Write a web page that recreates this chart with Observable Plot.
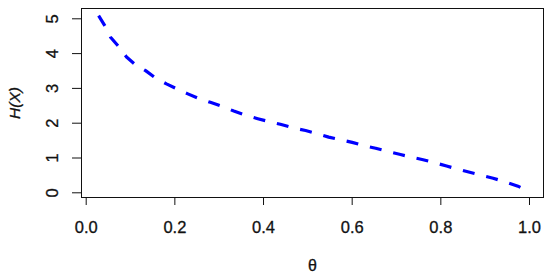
<!DOCTYPE html>
<html>
<head>
<meta charset="utf-8">
<script src="https://cdn.jsdelivr.net/npm/d3@7"></script>
<script src="https://cdn.jsdelivr.net/npm/@observablehq/plot@0.6"></script>
<style>
  html, body { margin: 0; padding: 0; background: white; }
</style>
</head>
<body>
<div id="chart"></div>
<script>
// Values
const thetaValues = [0.028, 0.044, 0.055, 0.076, 0.091, 0.111, 0.134, 0.156, 0.181, 0.207,
  0.228, 0.254, 0.280, 0.307, 0.333, 0.359, 0.387, 0.414, 0.438, 0.468,
  0.495, 0.521, 0.547, 0.575, 0.600, 0.628, 0.653, 0.680, 0.709, 0.735,
  0.760, 0.788, 0.813, 0.841, 0.865, 0.893, 0.918, 0.948, 0.974, 0.993];
const hValues = [5.09, 4.76, 4.47, 4.16, 3.90, 3.68, 3.51, 3.30, 3.13, 2.97,
  2.85, 2.71, 2.60, 2.48, 2.35, 2.23, 2.13, 2.04, 1.97, 1.86,
  1.79, 1.70, 1.60, 1.52, 1.45, 1.35, 1.28, 1.19, 1.10, 1.02,
  0.95, 0.86, 0.77, 0.67, 0.59, 0.50, 0.42, 0.30, 0.19, 0.07];
const xTicks = [0, 0.2, 0.4, 0.6, 0.8, 1.0];
const yTicks = [0, 1, 2, 3, 4, 5];
const xLabel = "θ";
const yLabel = "H(X)";

const data = thetaValues.map((t, i) => ({theta: t, H: hValues[i]}));

const font = "'Liberation Sans', Arial, Helvetica, sans-serif";
const ink = "#111";

const chart = Plot.plot({
  width: 550,
  height: 276,
  marginTop: 8,
  marginRight: 7,
  marginBottom: 79,
  marginLeft: 81,
  style: {fontFamily: font, fontSize: "16px", color: "black", background: "white"},
  x: {domain: [-0.0106, 1.0316], axis: null},
  y: {domain: [-0.135, 5.296], axis: null},
  marks: [
    Plot.frame({stroke: ink, strokeWidth: 1}),
    Plot.axisX({ticks: xTicks, tickSize: 8, tickFormat: () => "", label: null, stroke: ink}),
    Plot.axisY({ticks: yTicks, tickSize: 9, tickFormat: () => "", label: null, stroke: ink}),
    Plot.text(xTicks, {x: d => d, frameAnchor: "bottom", dy: 30, text: d => d.toFixed(1), lineAnchor: "middle", fill: ink, stroke: ink, strokeWidth: 0.3, fontSize: 16.5}),
    Plot.text(yTicks, {y: d => d, frameAnchor: "left", dx: -29, rotate: -90, text: d => String(d), textAnchor: "middle", lineAnchor: "middle", fill: ink, stroke: ink, strokeWidth: 0.3, fontSize: 16.5}),
    Plot.text([yLabel], {frameAnchor: "left", dx: -66, rotate: -90, text: d => d, textAnchor: "middle", lineAnchor: "middle", fontStyle: "italic", fill: ink, stroke: ink, strokeWidth: 0.3, fontSize: 15.5}),
    Plot.text([xLabel], {frameAnchor: "bottom", dy: 68, text: d => d, textAnchor: "middle", lineAnchor: "middle", fill: ink, stroke: ink, strokeWidth: 0.3, fontSize: 16}),
    Plot.line(data, {x: "theta", y: "H", stroke: "#0000ff", strokeWidth: 3.2, strokeDasharray: "12,12", strokeLinecap: "butt"})
  ]
});
document.getElementById("chart").appendChild(chart);
</script>
</body>
</html>
